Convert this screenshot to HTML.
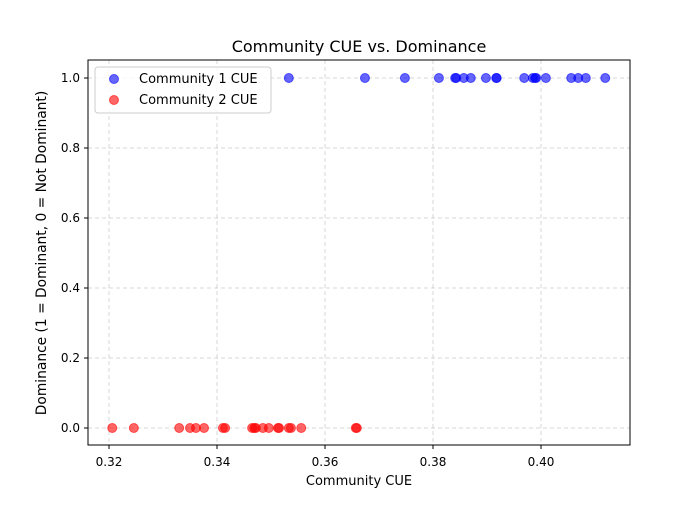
<!DOCTYPE html>
<html><head><meta charset="utf-8"><style>
body{margin:0;background:#fff;}
text{font-family:"DejaVu Sans","Liberation Sans",sans-serif;fill:#000;}
</style></head><body>
<svg id="chart" width="700" height="500">
<rect width="700" height="500" fill="#fff"/>
<text x="359" y="52" font-size="16" text-anchor="middle">Community CUE vs. Dominance</text>
<g id="grid"></g>
<g id="ticks"></g>
<g id="pts"></g>
<rect x="88" y="60" width="542" height="385" fill="none" stroke="#000" stroke-width="1"/>
<text x="359" y="485" font-size="13" text-anchor="middle">Community CUE</text>
<text transform="translate(46,253) rotate(-90)" font-size="13.8" text-anchor="middle">Dominance (1 = Dominant, 0 = Not Dominant)</text>
<g>
<rect x="95" y="67" width="176" height="46" rx="3" fill="#fff" fill-opacity="0.8" stroke="#ccc"/>
<circle cx="114" cy="79" r="4.5" fill="#0000ff" fill-opacity="0.6" stroke="#0000ff" stroke-opacity="0.6"/>
<text x="139" y="83" font-size="13">Community 1 CUE</text>
<circle cx="114" cy="100" r="4.5" fill="#ff0000" fill-opacity="0.6" stroke="#ff0000" stroke-opacity="0.6"/>
<text x="139" y="104" font-size="13">Community 2 CUE</text>
</g>
</svg>
<script>
const xTicks=[0.32,0.34,0.36,0.38,0.40];
const xTickLabels=["0.32","0.34","0.36","0.38","0.40"];
const yTicks=[0,0.2,0.4,0.6,0.8,1.0];
const yTickLabels=["0.0","0.2","0.4","0.6","0.8","1.0"];
const community1CUE=[0.3533,0.3674,0.3748,0.3811,0.3841,0.3843,0.3857,0.3870,0.3898,0.3917,0.3918,0.3969,0.3985,0.3989,0.3991,0.4009,0.4056,0.4069,0.4083,0.4119];
const community1Dom=community1CUE.map(()=>1);
const community2CUE=[0.3206,0.3246,0.3330,0.3350,0.3361,0.3376,0.3411,0.3415,0.3465,0.3469,0.3472,0.3485,0.3496,0.3513,0.3515,0.3533,0.3537,0.3556,0.3657,0.3659];
const community2Dom=community2CUE.map(()=>0);
const NS="http://www.w3.org/2000/svg";
const X=v=>109+(v-0.32)*5400;
const Y=v=>428-v*350;
const grid=document.getElementById('grid'),ticks=document.getElementById('ticks'),pts=document.getElementById('pts');
function mk(tag,attrs,parent){const e=document.createElementNS(NS,tag);for(const k in attrs)e.setAttribute(k,attrs[k]);parent.appendChild(e);return e;}
xTicks.forEach((t,i)=>{
 const g=mk('line',{x1:X(t),x2:X(t),y1:60,y2:445,stroke:'#b0b0b0','stroke-opacity':0.5,'stroke-dasharray':'4,3'},grid);
 
 
 mk('line',{x1:X(t),x2:X(t),y1:445,y2:449,stroke:'#000'},ticks);
 const tx=mk('text',{x:X(t),y:466,'font-size':12,'text-anchor':'middle'},ticks);
 tx.textContent=xTickLabels[i];
 
 
});
yTicks.forEach((t,i)=>{
 const g=mk('line',{x1:88,x2:630,y1:Y(t),y2:Y(t),stroke:'#b0b0b0','stroke-opacity':0.5,'stroke-dasharray':'4,3'},grid);
 
 
 mk('line',{x1:84,x2:88,y1:Y(t),y2:Y(t),stroke:'#000'},ticks);
 const tx=mk('text',{x:80,y:Y(t)+4,'font-size':12,'text-anchor':'end'},ticks);
 tx.textContent=yTickLabels[i];
 
 
});
community1CUE.forEach((v,i)=>{
 const c=mk('circle',{cx:X(v),cy:Y(community1Dom[i]),r:4.5,fill:'#0000ff','fill-opacity':0.6,stroke:'#0000ff','stroke-opacity':0.6},pts);
 
 
});
community2CUE.forEach((v,i)=>{
 const c=mk('circle',{cx:X(v),cy:Y(community2Dom[i]),r:4.5,fill:'#ff0000','fill-opacity':0.6,stroke:'#ff0000','stroke-opacity':0.6},pts);
 
 
});
</script>
</body></html>
